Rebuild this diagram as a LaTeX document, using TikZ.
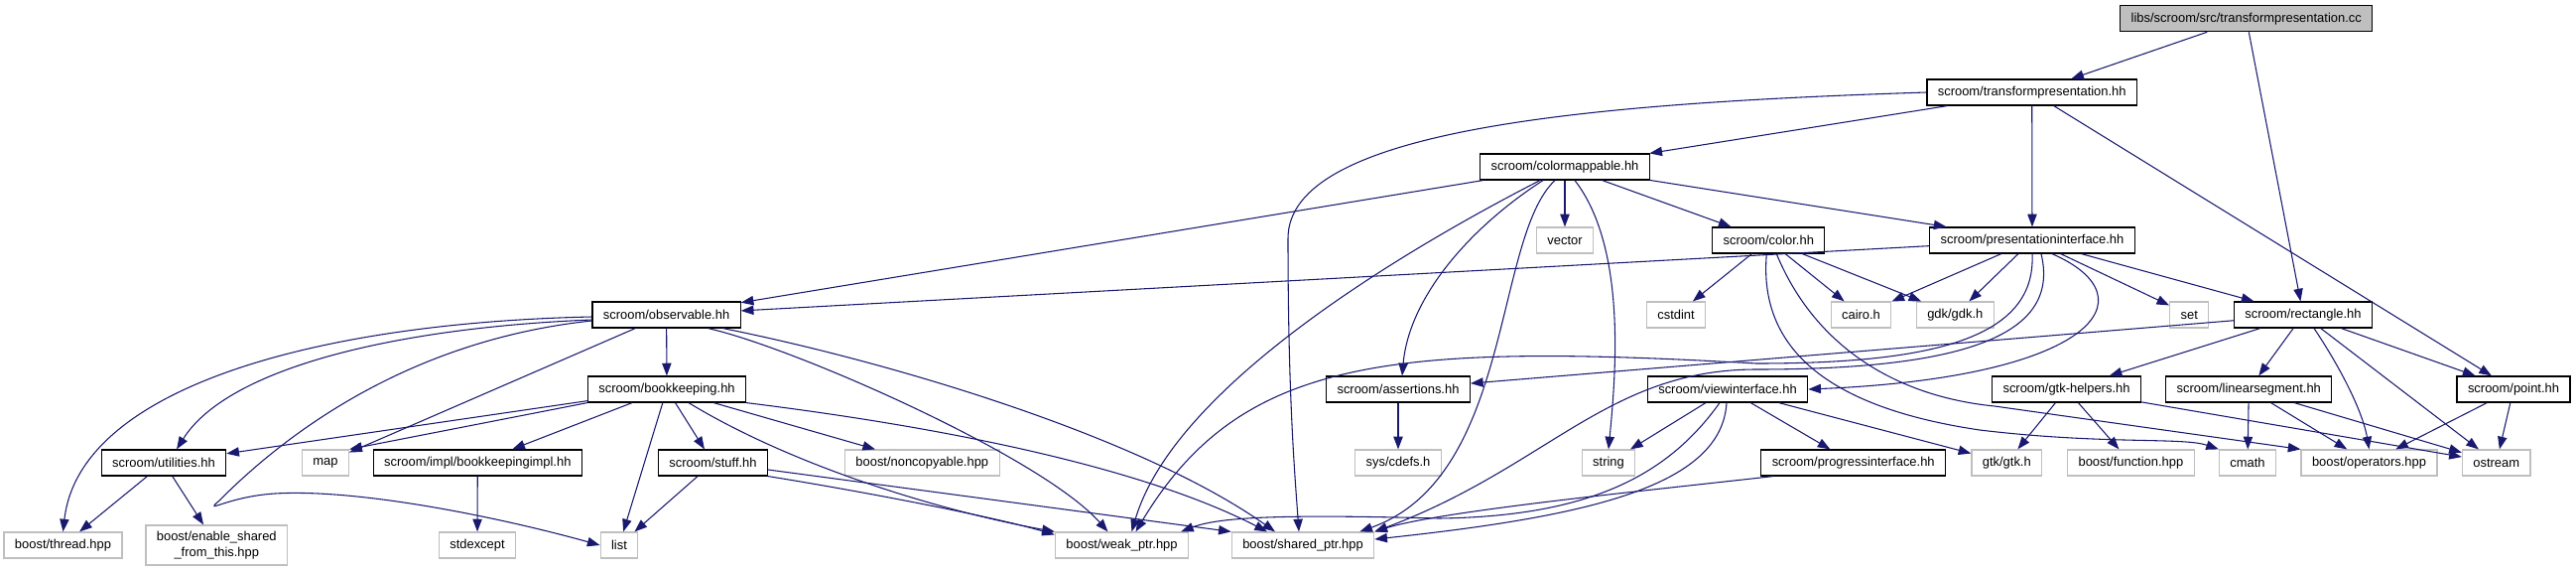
\documentclass[tikz,border=0pt]{standalone}
\usepackage{fontspec}
\setmainfont{Liberation Sans}
\usetikzlibrary{arrows.meta}
\definecolor{edgeblue}{HTML}{191970}
\definecolor{sysgray}{HTML}{BFBFBF}

\begin{document}
\begin{tikzpicture}[
      x=0.75pt, y=-0.75pt,
      every node/.style={font=\fontsize{9.7}{12.5}\selectfont, inner xsep=8.2pt,
      inner ysep=0pt, minimum height=19.5pt},
      hdr/.style={rectangle, draw=black, line width=0.9pt},
      ext/.style={rectangle, draw=sysgray, line width=0.9pt},
      root/.style={hdr, fill=sysgray},
      line/.style={draw=edgeblue, line width=0.8pt,
      -{Triangle[length=9.5pt, width=7pt]}}
    ]
    \useasboundingbox (0,0) rectangle (2596,576);

    \node [root] (src) at (2263.7,18.7) {libs/scroom/src/transformpresentation.cc};
    \node [hdr] (tphh) at (2047.7,93) {scroom/transformpresentation.hh};
    \node [hdr] (cmap) at (1577,168) {scroom/colormappable.hh};
    \node [ext] (vector) at (1577,242) {vector};
    \node [hdr] (color) at (1782.3,242) {scroom/color.hh};
    \node [hdr] (presint) at (2048,242) {scroom/presentationinterface.hh};
    \node [hdr] (observ) at (671.6,317) {scroom/observable.hh};
    \node [ext] (cstdint) at (1689,317) {cstdint};
    \node [ext] (cairo) at (1875.5,317) {cairo.h};
    \node [ext] (gdk) at (1970.3,317) {gdk/gdk.h};
    \node [ext] (stdset) at (2206.3,317) {set};
    \node [hdr] (rect) at (2321,317) {scroom/rectangle.hh};
    \node [hdr] (bookk) at (672,392) {scroom/bookkeeping.hh};
    \node [hdr] (assert) at (1409,392) {scroom/assertions.hh};
    \node [hdr] (viewif) at (1741,392) {scroom/viewinterface.hh};
    \node [hdr] (gtkhelp) at (2082.5,392) {scroom/gtk-helpers.hh};
    \node [hdr] (linseg) at (2266.3,392) {scroom/linearsegment.hh};
    \node [hdr] (point) at (2533,392) {scroom/point.hh};
    \node [hdr] (util) at (165,466) {scroom/utilities.hh};
    \node [ext] (map) at (328,466) {map};
    \node [hdr] (bkimpl) at (481.3,466) {scroom/impl/bookkeepingimpl.hh};
    \node [hdr] (stuff) at (718.5,466) {scroom/stuff.hh};
    \node [ext] (noncopy) at (929.3,466) {boost/noncopyable.hpp};
    \node [ext] (cdefs) at (1409,466) {sys/cdefs.h};
    \node [ext] (string) at (1621,466) {string};
    \node [hdr] (progif) at (1867.7,466) {scroom/progressinterface.hh};
    \node [ext] (gtk) at (2022.3,466) {gtk/gtk.h};
    \node [ext] (function) at (2147.4,466) {boost/function.hpp};
    \node [ext] (cmath) at (2265,466) {cmath};
    \node [ext] (operators) at (2387.5,466) {boost/operators.hpp};
    \node [ext] (ostream) at (2515.7,466) {ostream};
    \node [ext] (thread) at (63.5,549) {boost/thread.hpp};
    \node [ext, align=center, minimum height=30pt] (enable) at (218.3,549)
      {boost/enable\_shared\\\_from\_this.hpp};
    \node [ext] (stdexcept) at (481,549) {stdexcept};
    \node [ext] (list) at (624,549) {list};
    \node [ext] (weakptr) at (1130.5,549) {boost/weak\_ptr.hpp};
    \node [ext] (sharedptr) at (1313,549) {boost/shared\_ptr.hpp};

    \path [line] (src) -- (tphh);
    \path [line] (src) -- (rect);
    \path [line] (tphh) -- (cmap);
    \path [line] (tphh) -- (presint);
    \path [line] (tphh) -- (point);
    \path [line] (tphh.west) .. controls (1600,104) and (1298,130) .. (1298,240)
      .. controls (1298,400) and (1305,480) .. ([shift={(-4,0)}]sharedptr.north);

    \path [line] (cmap) -- (observ);
    \path [line] (cmap) -- (vector);
    \path [line] (cmap) -- (color);
    \path [line] (cmap) -- (presint);
    \path [line] ([shift={(-22,0)}]cmap.south) .. controls (1480,230) and (1420,300)
      .. ([shift={(4,0)}]assert.north);
    \path [line] ([shift={(10,0)}]cmap.south) .. controls (1640,250) and (1628,380)
      .. (string.north);
    \path [line] ([shift={(-25,0)}]cmap.south) .. controls (1380,270) and (1180,400)
      .. ([shift={(10,0)}]weakptr.north);
    \path [line] ([shift={(-10,0)}]cmap.south) .. controls (1505,240) and (1525,480)
      .. ([shift={(-15,0)}]sharedptr.north east);

    \path [line] (presint) -- (observ);
    \path [line] (presint) -- (cairo);
    \path [line] (presint) -- (gdk);
    \path [line] (presint) -- (stdset);
    \path [line] (presint) -- (rect);
    \path [line] ([shift={(20,0)}]presint.south) .. controls (2170,300) and (2110,380)
      .. (viewif.east);
    \path [line] (presint.south) .. controls (2052,340) and (1950,366) .. (1770,366)
      .. controls (1400,345) and (1250,360) .. ([shift={(14,0)}]weakptr.north);
    \path [line] ([shift={(9,0)}]presint.south) .. controls (2075,330) and (2000,372)
      .. (1770,372) .. controls (1620,372) and (1560,470) .. (sharedptr.north east);

    \path [line] (color) -- (cstdint);
    \path [line] (color) -- (cairo);
    \path [line] (color) -- (gdk);
    \path [line] ([shift={(-2,0)}]color.south) .. controls (1772,350) and (1840,410)
      .. (1995,433) .. controls (2120,448) and (2200,440) .. (cmath.north west);
    \path [line] ([shift={(8,0)}]color.south) .. controls (1825,340) and (1900,398)
      .. (2010,409) -- (operators.north west);

    \path [line] (observ) -- (bookk);
    \path [line] (observ) -- (map);
    \path [line] ([shift={(0,5)}]observ.west) .. controls (400,330) and (230,370)
      .. ([shift={(13,0)}]util.north);
    \path [line] ([shift={(0,2)}]observ.west) .. controls (320,325) and (80,390)
      .. (thread.north);
    \path [line] ([shift={(0,6)}]observ.west) .. controls (390,345) and (265,460)
      .. (220,505) .. controls (205,518) and (230,500) .. (277,497)
      .. controls (360,492) and (500,520) .. (list.west);
    \path [line] ([shift={(42,0)}]observ.south) .. controls (800,350) and (1050,460)
      .. ([shift={(-14,0)}]weakptr.north);
    \path [line] ([shift={(57,0)}]observ.south) .. controls (900,365) and (1150,440)
      .. ([shift={(-28,0)}]sharedptr.north);

    \path [line] (bookk) -- (util);
    \path [line] (bookk.south west) -- (map.north east);
    \path [line] (bookk) -- (bkimpl);
    \path [line] (bookk) -- (list);
    \path [line] (bookk) -- (stuff);
    \path [line] (bookk) -- (noncopy);
    \path [line] ([shift={(22,0)}]bookk.south) .. controls (800,470) and (950,515)
      .. (weakptr.north west);
    \path [line] (bookk.south east) .. controls (950,430) and (1150,470)
      .. ([shift={(-36,0)}]sharedptr.north);

    \path [line] (stuff) -- (list);
    \path [line] (stuff.south east) .. controls (870,495) and (1000,520)
      .. ([shift={(0,3)}]weakptr.north west);
    \path [line] ([shift={(0,7)}]stuff.east) -- (sharedptr.north west);

    \path [line] (util) -- (thread);
    \path [line] (util) -- (enable);
    \path [line] (bkimpl) -- (stdexcept);
    \path [line] (assert) -- (cdefs);

    \path [line] (rect) -- (assert);
    \path [line] (rect) -- (gtkhelp);
    \path [line] (rect) -- (linseg);
    \path [line] (rect) -- (ostream);
    \path [line] (rect) -- (point);
    \path [line] ([shift={(11,0)}]rect.south) .. controls (2365,380) and (2382,420)
      .. (operators.north);

    \path [line] (viewif) -- (string);
    \path [line] (viewif) -- (progif);
    \path [line] (viewif) -- (gtk);
    \path [line] ([shift={(-8,0)}]viewif.south) .. controls (1680,480) and (1600,520)
      .. (1450,522) .. controls (1300,518) and (1230,520)
      .. ([shift={(-8,0)}]weakptr.north east);
    \path [line] ([shift={(-1,0)}]viewif.south) .. controls (1735,490) and (1600,520)
      .. ([shift={(0,-6)}]sharedptr.east);
    \path [line] ([shift={(-81,0)}]progif.south) .. controls (1650,495) and (1450,515)
      .. (sharedptr.north east);

    \path [line] (gtkhelp) -- (gtk);
    \path [line] (gtkhelp) -- (function);
    \path [line] (gtkhelp) -- (ostream);
    \path [line] (linseg) -- (cmath);
    \path [line] (linseg) -- (operators);
    \path [line] (linseg) -- (ostream);
    \path [line] (point) -- (operators);
    \path [line] (point) -- (ostream);
  \end{tikzpicture}
\end{document}
